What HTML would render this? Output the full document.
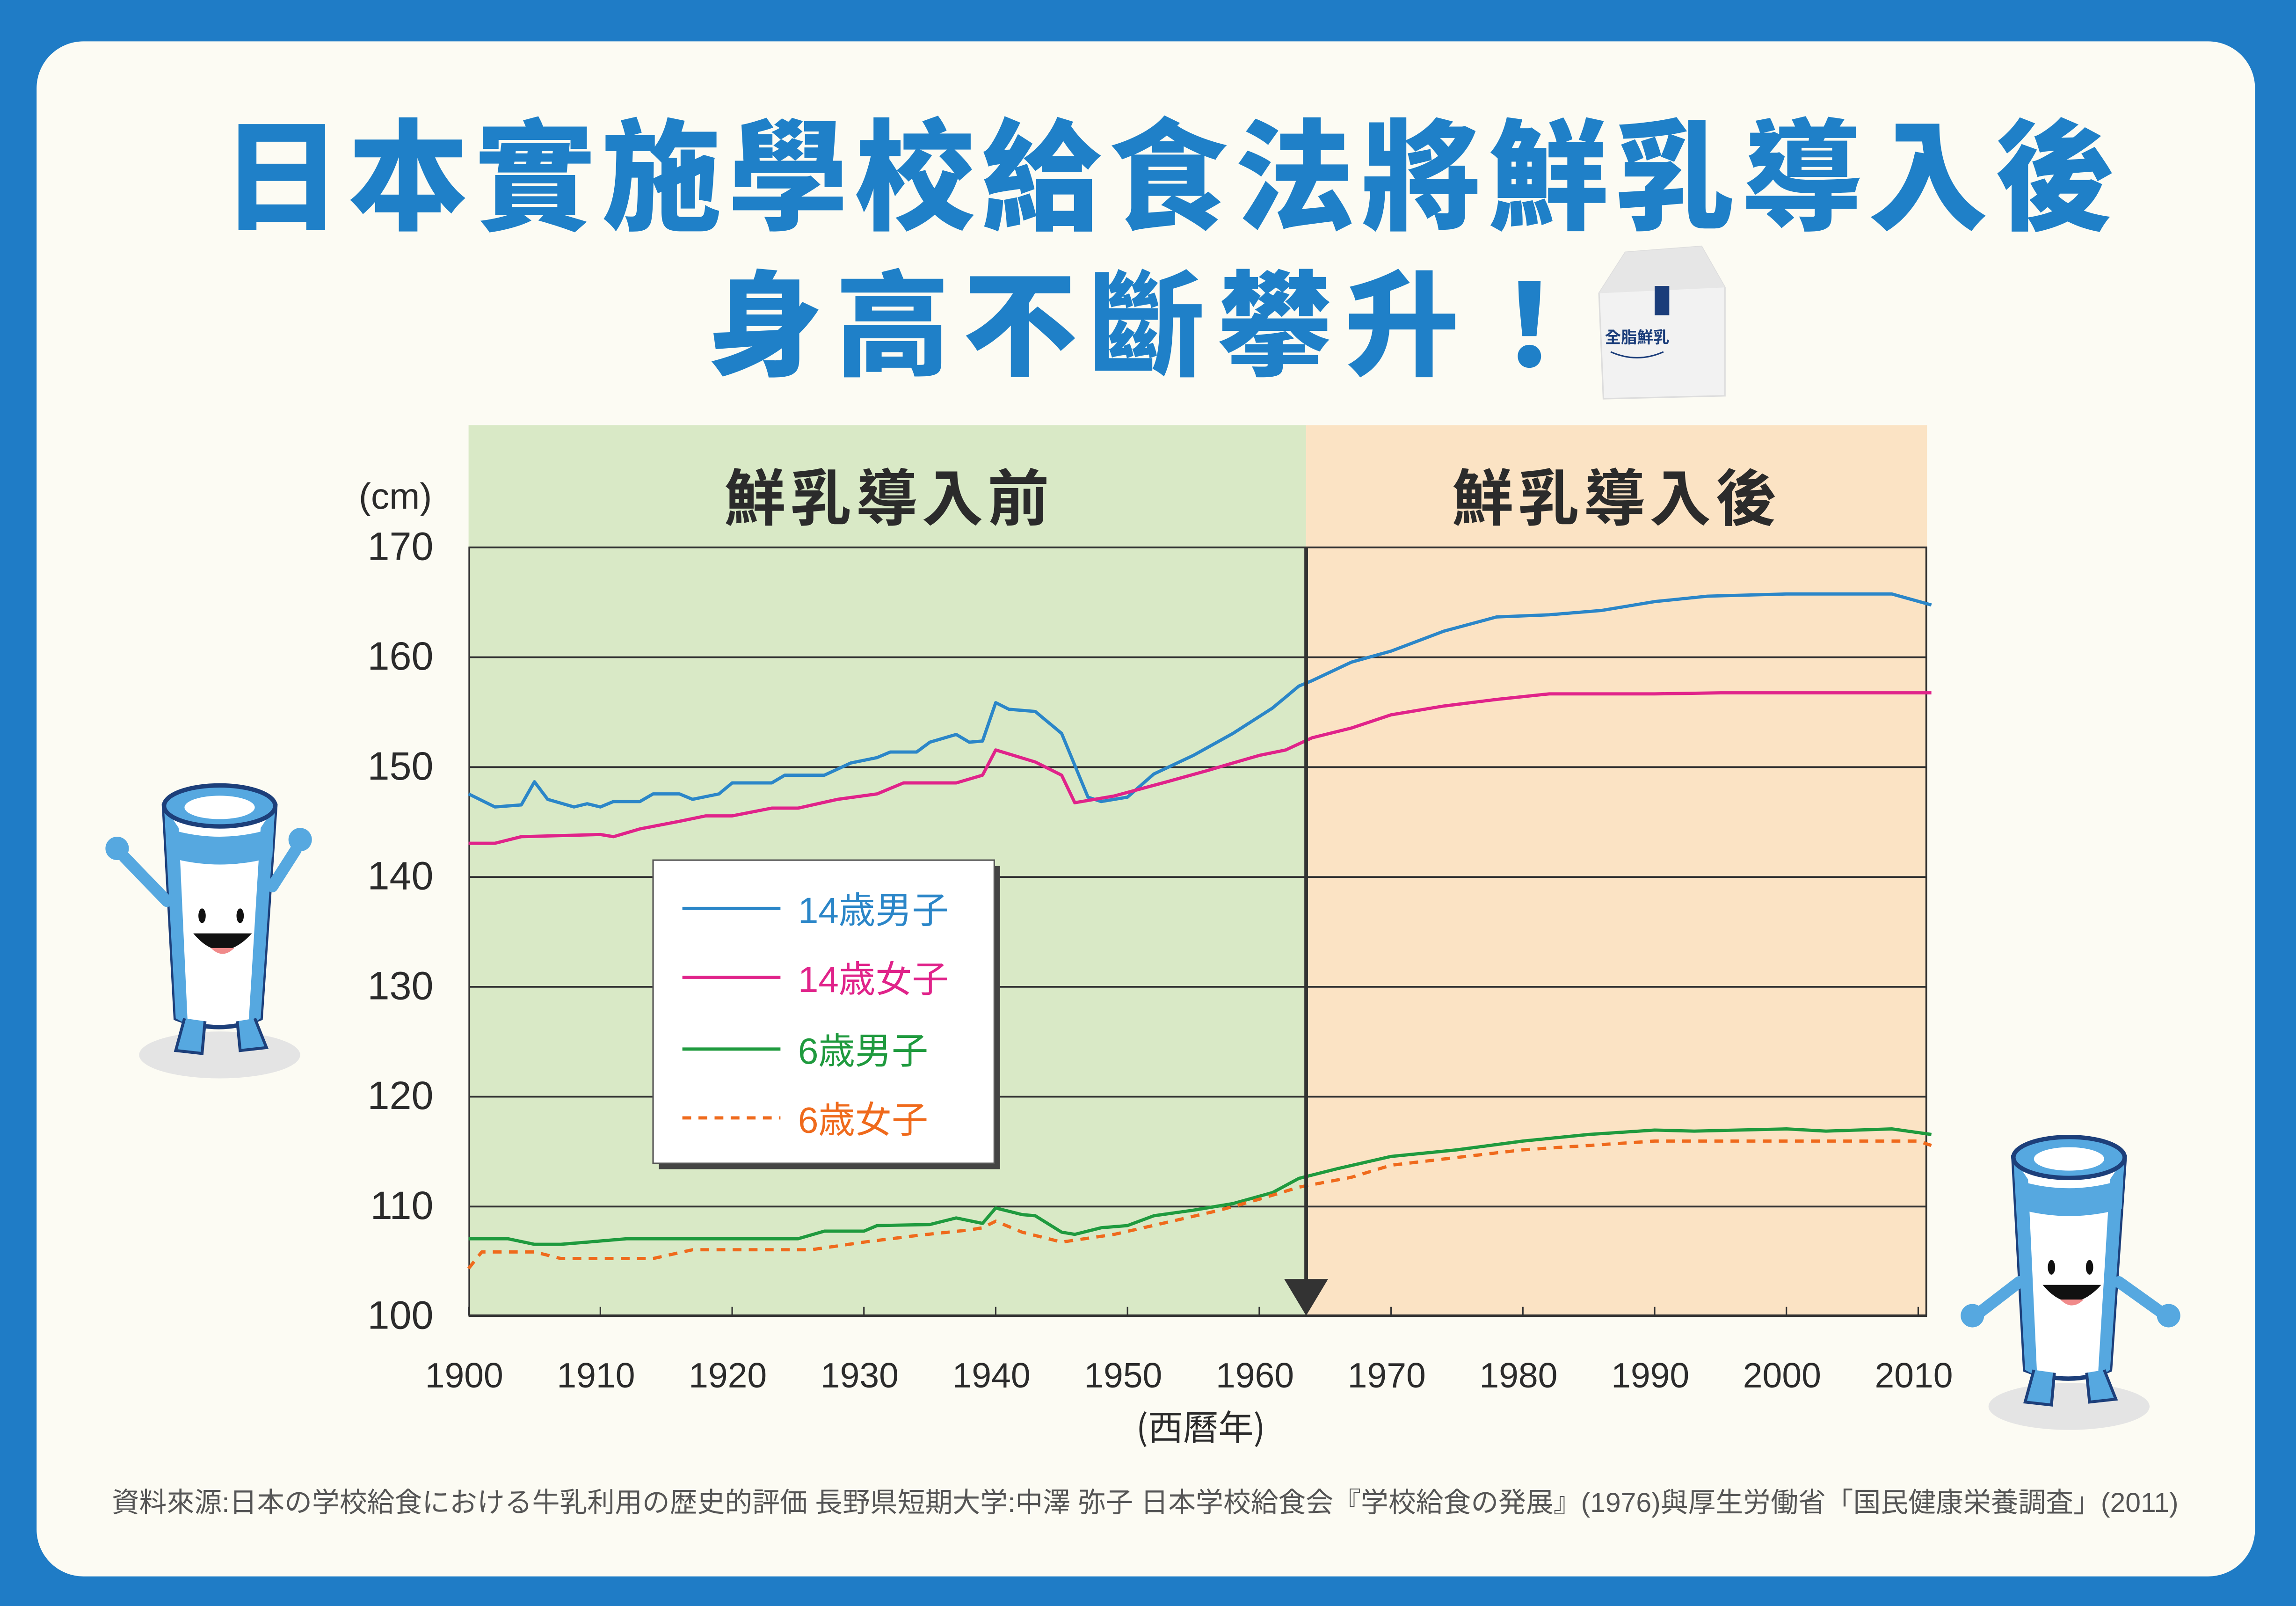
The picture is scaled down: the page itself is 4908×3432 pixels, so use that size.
<!DOCTYPE html>
<html><head><meta charset="utf-8"><style>
html,body{margin:0;padding:0;background:#1f7cc6;}
svg{display:block;}
text{font-family:"Liberation Sans","Noto Sans CJK TC",sans-serif;}
</style></head><body>
<svg width="4908" height="3432" viewBox="0 0 1568 1096" xmlns="http://www.w3.org/2000/svg">
<rect width="1568" height="1096" fill="#1f7cc6"/>
<rect x="25" y="28" width="1515" height="1048" rx="32" fill="#fcfbf3"/>
<text x="800" y="150" text-anchor="middle" font-size="82" font-weight="900" fill="#1f80c8" style="font-family:'Noto Sans CJK TC',sans-serif" letter-spacing="4.5">日本實施學校給食法將鮮乳導入後</text>
<text x="788" y="250" text-anchor="middle" font-size="78" font-weight="900" fill="#1f80c8" style="font-family:'Noto Sans CJK TC',sans-serif" letter-spacing="9">身高不斷攀升！</text>
<!-- milk carton -->
<g>
<polygon points="1092,200 1110,172 1162,168 1178,196 1178,270 1095,272" fill="#f2f2f2" stroke="#ddd"/>
<polygon points="1092,200 1178,196 1162,168 1110,172" fill="#e6e6e6"/>
<rect x="1130" y="195" width="10" height="20" fill="#1b3d7a"/>
<text x="1118" y="234" text-anchor="middle" font-size="11" font-weight="bold" fill="#1b3d7a" style="font-family:'Noto Sans CJK TC',sans-serif">全脂鮮乳</text>
<path d="M1100,240 q18,8 36,0" stroke="#1b3d7a" fill="none"/>
</g>
<!-- chart background -->
<rect x="320" y="290" width="572" height="608" fill="#d9e9c6"/>
<rect x="892" y="290" width="424" height="608" fill="#fbe3c4"/>
<text x="607" y="355" text-anchor="middle" font-size="42" font-weight="bold" fill="#2b2b2b" style="font-family:'Noto Sans CJK TC',sans-serif" letter-spacing="3">鮮乳導入前</text>
<text x="1104" y="355" text-anchor="middle" font-size="42" font-weight="bold" fill="#2b2b2b" style="font-family:'Noto Sans CJK TC',sans-serif" letter-spacing="3">鮮乳導入後</text>
<g stroke="#333" stroke-width="1.2">
<line x1="320" y1="373.5" x2="1316" y2="373.5"/>
<line x1="320" y1="448.5" x2="1316" y2="448.5"/>
<line x1="320" y1="523.5" x2="1316" y2="523.5"/>
<line x1="320" y1="598.5" x2="1316" y2="598.5"/>
<line x1="320" y1="673.5" x2="1316" y2="673.5"/>
<line x1="320" y1="748.5" x2="1316" y2="748.5"/>
<line x1="320" y1="823.5" x2="1316" y2="823.5"/>
<line x1="320" y1="898" x2="1316" y2="898" stroke-width="1.6"/>
<line x1="320.5" y1="373" x2="320.5" y2="898"/>
<line x1="1315.5" y1="373" x2="1315.5" y2="898"/>
</g>
<g id="ticks" stroke="#333" stroke-width="1"></g>
<g font-size="27" fill="#2b2b2b" text-anchor="end">
<text x="296" y="382">170</text><text x="296" y="457">160</text><text x="296" y="532">150</text>
<text x="296" y="607">140</text><text x="296" y="682">130</text><text x="296" y="757">120</text>
<text x="296" y="832">110</text><text x="296" y="907">100</text>
</g>
<text x="270" y="347" text-anchor="middle" font-size="25" fill="#2b2b2b">(cm)</text>
<g font-size="24" fill="#2b2b2b" text-anchor="middle" id="xl"></g>
<text x="820" y="983" text-anchor="middle" font-size="24" fill="#2b2b2b" style="font-family:'Noto Sans CJK TC',sans-serif">(西曆年)</text>
<g id="series" fill="none" stroke-width="2.2" stroke-linejoin="round"></g>
<!-- arrow -->
<line x1="892" y1="373" x2="892" y2="880" stroke="#333" stroke-width="2.5"/>
<polygon points="877,873 907,873 892,898" fill="#333"/>
<!-- legend -->
<rect x="450" y="591" width="233" height="207" fill="#444"/>
<rect x="446" y="587" width="233" height="207" fill="#fff" stroke="#555" stroke-width="1"/>
<g stroke-width="2.2">
<line x1="466" y1="620" x2="533" y2="620" stroke="#2b86c8"/>
<line x1="466" y1="667" x2="533" y2="667" stroke="#e0238a"/>
<line x1="466" y1="716" x2="533" y2="716" stroke="#1f9a3e"/>
<line x1="466" y1="763" x2="533" y2="763" stroke="#ef6a1c" stroke-dasharray="6,5"/>
</g>
<g font-size="25" style="font-family:'Liberation Sans','Noto Sans CJK TC',sans-serif">
<text x="545" y="630" fill="#2b86c8">14歳男子</text>
<text x="545" y="677" fill="#e0238a">14歳女子</text>
<text x="545" y="726" fill="#1f9a3e">6歳男子</text>
<text x="545" y="773" fill="#ef6a1c">6歳女子</text>
</g>
<text x="782" y="1032" text-anchor="middle" font-size="18.8" fill="#555" style="font-family:'Liberation Sans','Noto Sans CJK JP',sans-serif">資料來源:日本の学校給食における牛乳利用の歴史的評価 長野県短期大学:中澤 弥子 日本学校給食会『学校給食の発展』(1976)與厚生労働省「国民健康栄養調査」(2011)</text>
<!-- mascots -->
<defs>
<g id="m">
<ellipse cx="0" cy="95" rx="55" ry="16" fill="#e4e4e4"/>
<path d="M-38,-75 L-30,70 Q0,82 28,70 L38,-75 Z" fill="#fff" stroke="#1d3f7a" stroke-width="3"/>
<path d="M-38,-75 L-30,70 Q-20,76 -22,70 L-28,-60 Z" fill="#56a8e0"/>
<path d="M38,-75 L28,70 Q20,76 20,70 L28,-60 Z" fill="#56a8e0"/>
<path d="M-37,-60 Q0,-48 37,-60 L36,-40 Q0,-30 -35,-40 Z" fill="#56a8e0"/>
<ellipse cx="0" cy="-75" rx="38" ry="14" fill="#56a8e0" stroke="#1d3f7a" stroke-width="3"/>
<ellipse cx="0" cy="-74" rx="24" ry="8" fill="#fff"/>
<ellipse cx="-12" cy="0" rx="2.5" ry="5" fill="#111"/>
<ellipse cx="14" cy="0" rx="2.5" ry="5" fill="#111"/>
<path d="M-18,12 Q1,35 22,12 Z" fill="#111"/>
<path d="M-6,22 Q2,30 10,22 Z" fill="#f08a8a"/>
<path d="M-24,70 L-30,92 L-12,94 L-10,72" fill="#56a8e0" stroke="#1d3f7a" stroke-width="2"/>
<path d="M12,72 L14,92 L32,90 L24,70" fill="#56a8e0" stroke="#1d3f7a" stroke-width="2"/>
</g>
</defs>
<g transform="translate(150,625)">
<use href="#m"/>
<path d="M-36,-10 L-65,-40" stroke="#56a8e0" stroke-width="8" stroke-linecap="round"/>
<circle cx="-70" cy="-46" r="8" fill="#56a8e0"/>
<path d="M36,-20 L52,-45" stroke="#56a8e0" stroke-width="8" stroke-linecap="round"/>
<circle cx="55" cy="-52" r="8" fill="#56a8e0"/>
</g>
<g transform="translate(1413,865)">
<use href="#m"/>
<path d="M-34,10 L-60,30" stroke="#56a8e0" stroke-width="8" stroke-linecap="round"/>
<circle cx="-66" cy="33" r="8" fill="#56a8e0"/>
<path d="M34,10 L62,30" stroke="#56a8e0" stroke-width="8" stroke-linecap="round"/>
<circle cx="68" cy="33" r="8" fill="#56a8e0"/>
</g>
</svg>
<script>
var NS="http://www.w3.org/2000/svg";
function X(y){return 320+(y-1900)*9.0;}
function Y(v){return 898-(v-100)*7.5;}
var t=document.getElementById('ticks'),xl=document.getElementById('xl');
for(var yr=1900;yr<=2010;yr+=10){
 var l=document.createElementNS(NS,'line');l.setAttribute('x1',X(yr));l.setAttribute('x2',X(yr));l.setAttribute('y1',892);l.setAttribute('y2',898);t.appendChild(l);
 var tx=document.createElementNS(NS,'text');tx.setAttribute('x',X(yr)-3);tx.setAttribute('y',947);tx.textContent=yr;xl.appendChild(tx);
}
var S=[
["#2b86c8","",[[1900,147.5],[1902,146.3],[1904,146.5],[1905,148.6],[1906,147],[1908,146.3],[1909,146.6],[1910,146.3],[1911,146.8],[1913,146.8],[1914,147.5],[1916,147.5],[1917,147],[1919,147.5],[1920,148.5],[1923,148.5],[1924,149.2],[1927,149.2],[1929,150.3],[1931,150.8],[1932,151.3],[1934,151.3],[1935,152.2],[1937,152.9],[1938,152.2],[1939,152.3],[1940,155.8],[1941,155.2],[1943,155],[1945,153],[1947,147.2],[1948,146.8],[1950,147.2],[1952,149.3],[1955,151],[1958,153],[1961,155.3],[1963,157.3],[1964,157.8],[1967,159.5],[1970,160.5],[1974,162.3],[1978,163.6],[1982,163.8],[1986,164.2],[1990,165],[1994,165.5],[2000,165.7],[2008,165.7],[2011,164.7]]],
["#e0238a","",[[1900,143],[1902,143],[1904,143.6],[1910,143.8],[1911,143.6],[1913,144.3],[1916,145],[1918,145.5],[1920,145.5],[1923,146.2],[1925,146.2],[1928,147],[1931,147.5],[1933,148.5],[1937,148.5],[1939,149.2],[1940,151.5],[1943,150.4],[1945,149.2],[1946,146.7],[1949,147.3],[1953,148.6],[1956,149.6],[1958,150.3],[1960,151],[1962,151.5],[1964,152.6],[1967,153.5],[1970,154.7],[1974,155.5],[1978,156.1],[1982,156.6],[1990,156.6],[1995,156.7],[2011,156.7]]],
["#1f9a3e","",[[1900,107],[1903,107],[1905,106.5],[1907,106.5],[1909,106.7],[1912,107],[1925,107],[1927,107.7],[1930,107.7],[1931,108.2],[1935,108.3],[1937,108.9],[1939,108.4],[1940,109.8],[1942,109.2],[1943,109.1],[1945,107.6],[1946,107.4],[1948,108],[1950,108.2],[1952,109.1],[1955,109.6],[1958,110.2],[1961,111.2],[1963,112.5],[1966,113.4],[1970,114.5],[1975,115.1],[1980,115.9],[1985,116.5],[1990,116.9],[1993,116.8],[2000,117],[2003,116.8],[2008,117],[2011,116.5]]],
["#ef6a1c","6,5",[[1900,104.3],[1901,105.8],[1905,105.8],[1907,105.2],[1914,105.2],[1917,106],[1926,106],[1930,106.7],[1934,107.3],[1938,107.8],[1939,108],[1940,108.6],[1942,107.6],[1944,107],[1945,106.7],[1949,107.4],[1953,108.5],[1957,109.6],[1960,110.6],[1963,111.7],[1967,112.6],[1970,113.7],[1975,114.4],[1980,115.1],[1985,115.5],[1990,115.9],[2000,115.9],[2010,115.9],[2011,115.5]]]];
var g=document.getElementById('series');
S.forEach(function(s){var p=document.createElementNS(NS,'polyline');p.setAttribute('stroke',s[0]);if(s[1])p.setAttribute('stroke-dasharray',s[1]);
p.setAttribute('points',s[2].map(function(d){return X(d[0]).toFixed(1)+','+Y(d[1]).toFixed(1)}).join(' '));g.appendChild(p);});
</script>
</body></html>
